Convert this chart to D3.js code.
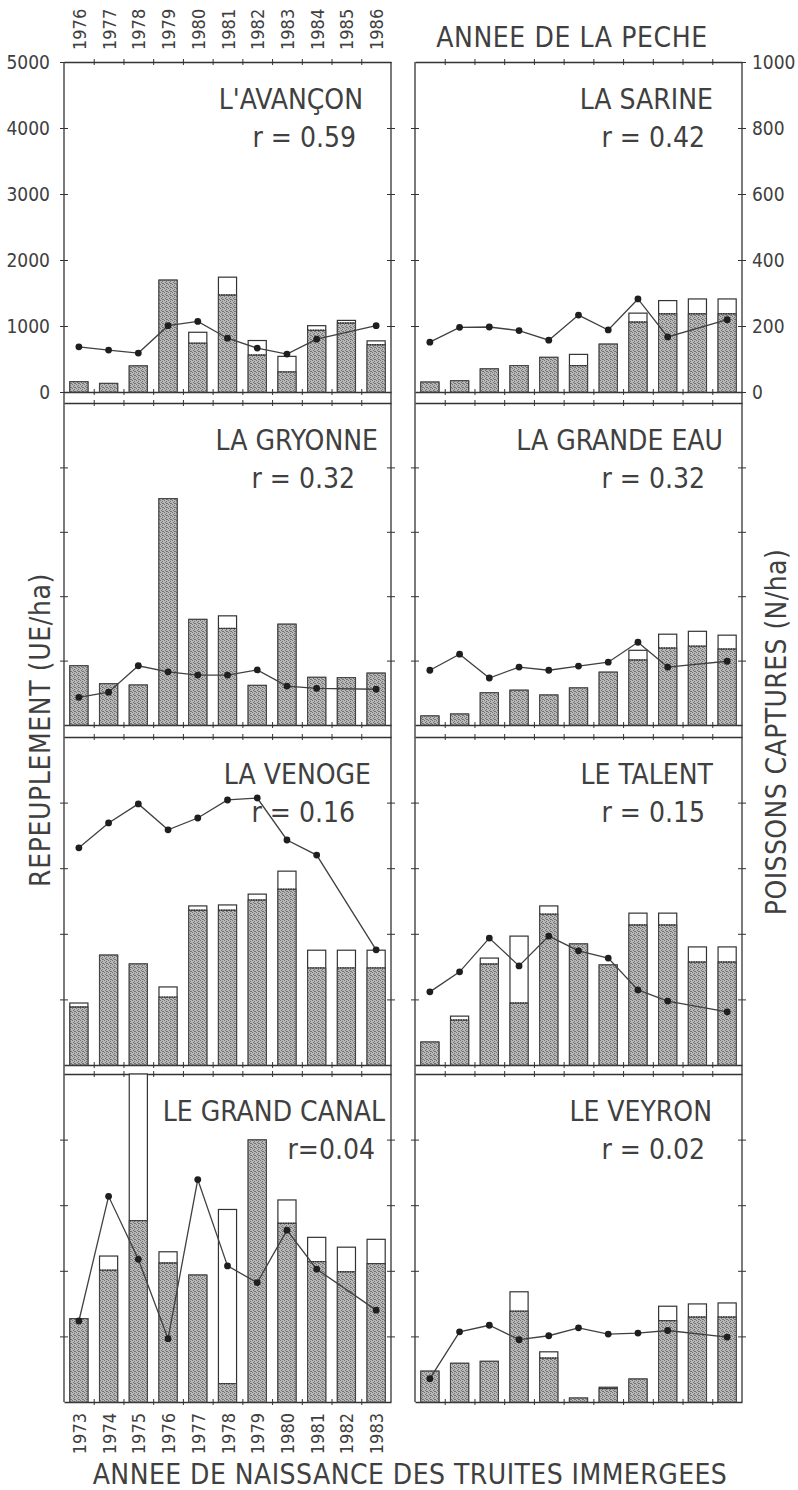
<!DOCTYPE html>
<html>
<head>
<meta charset="utf-8">
<script src="https://cdn.jsdelivr.net/npm/d3@7"></script>
<style>
  body { margin: 0; background: #fff; }
  text { font-family: "DejaVu Sans Condensed", "Liberation Sans Narrow", sans-serif; fill: #404040; }
</style>
</head>
<body>
<div id="chart"></div>
<script>
// years on the top axis (fishing) and bottom axis (birth of stocked trout)
const fishYears = ["1976","1977","1978","1979","1980","1981","1982","1983","1984","1985","1986"];
const birthYears = ["1973","1974","1975","1976","1977","1978","1979","1980","1981","1982","1983"];
const leftTicks = [0, 1000, 2000, 3000, 4000, 5000];
const rightTicks = [0, 200, 400, 600, 800, 1000];

const rivers = ["L'AVANÇON", "LA SARINE", "LA GRYONNE", "LA GRANDE EAU",
                "LA VENOGE", "LE TALENT", "LE GRAND CANAL", "LE VEYRON"];
const rLabels = ["r = 0.59", "r = 0.42", "r = 0.32", "r = 0.32",
                 "r = 0.16", "r = 0.15", "r=0.04", "r = 0.02"];

// stocking (UE/ha): shaded part and total height of each bar
const stockShaded = [
  [155, 130, 395, 1695, 740, 1470, 560, 305, 935, 1045, 715],
  [150, 170, 350, 400, 525, 400, 725, 1060, 1185, 1185, 1185],
  [920, 640, 620, 3515, 1640, 1500, 615, 1565, 740, 735, 805],
  [140, 170, 500, 540, 465, 575, 820, 1010, 1195, 1225, 1180],
  [885, 1675, 1540, 1035, 2360, 2360, 2515, 2680, 1480, 1480, 1480],
  [350, 685, 1540, 945, 2300, 1845, 1525, 2135, 2135, 1570, 1570],
  [1270, 2010, 2765, 2120, 1935, 280, 3995, 2725, 2140, 1985, 2110],
  [470, 590, 620, 1385, 670, 60, 205, 350, 1240, 1295, 1295]
];
const stockTotal = [
  [155, 130, 395, 1695, 905, 1740, 780, 540, 1005, 1085, 775],
  [150, 170, 350, 400, 525, 570, 725, 1195, 1385, 1410, 1410],
  [920, 640, 620, 3515, 1640, 1695, 615, 1565, 740, 735, 805],
  [140, 170, 500, 540, 465, 575, 820, 1160, 1410, 1455, 1395],
  [945, 1675, 1540, 1190, 2425, 2440, 2605, 2955, 1750, 1750, 1750],
  [350, 745, 1630, 1965, 2425, 1845, 1525, 2315, 2315, 1800, 1800],
  [1270, 2225, 5000, 2290, 1935, 2935, 3995, 3080, 2510, 2360, 2480],
  [470, 590, 620, 1680, 765, 60, 225, 350, 1460, 1495, 1510]
];
// fish caught (N/ha), null where no point is plotted
const caught = [
  [137, 127, 118, 201, 214, 163, 133, 115, 160, null, 201],
  [151, 196, 197, 186, 157, 233, 188, 282, 167, null, 219],
  [86, 102, 184, 165, 155, 155, 171, 121, 114, null, 111],
  [170, 220, 146, 180, 170, 183, 195, 257, 180, null, 198],
  [662, 738, 796, 717, 753, 808, 814, 686, 640, null, 351],
  [223, 284, 387, 302, 393, 348, 326, 229, 195, null, 162],
  [247, 627, 435, 193, 678, 415, 364, 524, 405, null, 280],
  [71, 214, 234, 190, 202, 226, 207, 210, 218, null, 198]
];

const W = 798, H = 1490;
const colX = [64, 415];
const panelW = 327;
const rowTop = [62, 403, 737, 1074];
const rowBottom = [392, 725, 1065, 1402];
const titleEnd = [363, 713, 378, 723, 371, 713, 385, 712];
const rEnd = [356, 705, 355, 705, 355, 705, 375, 705];
const ink = "#333";
const bigFont = "28px";

const svg = d3.select("#chart").append("svg")
  .attr("width", W).attr("height", H);

// stippled fill for the shaded part of the bars
const pat = svg.append("defs").append("pattern")
  .attr("id", "stipple").attr("width", 4).attr("height", 4)
  .attr("patternUnits", "userSpaceOnUse");
pat.append("rect").attr("width", 4).attr("height", 4).attr("fill", "#b8b8b8");
[[0, 0], [2, 1], [1, 2], [3, 3], [2, 3]].forEach(([a, b]) =>
  pat.append("rect").attr("x", a).attr("y", b).attr("width", 1).attr("height", 1).attr("fill", "#737373"));

// continuous vertical frame lines for each column
colX.forEach(x0 => {
  [x0, x0 + panelW].forEach(x => {
    svg.append("line").attr("x1", x).attr("x2", x)
      .attr("y1", rowTop[0]).attr("y2", rowBottom[3])
      .attr("stroke", ink).attr("stroke-width", 1.3);
  });
});

rivers.forEach((name, p) => {
  const col = p % 2, row = Math.floor(p / 2);
  const x0 = colX[col], top = rowTop[row], bottom = rowBottom[row];

  const x = d3.scaleBand().domain(d3.range(11))
    .range([x0, x0 + panelW]).paddingInner(0.39).paddingOuter(0.195);
  const xEdge = d3.scaleLinear().domain([0, 11]).range([x0, x0 + panelW]);
  const yBar = d3.scaleLinear().domain([0, 5000]).range([bottom, top]);
  const yLine = d3.scaleLinear().domain([0, 1000]).range([bottom, top]);

  const g = svg.append("g");

  // horizontal frame lines with ticks on the bar boundaries
  [top, bottom].forEach(yy => {
    g.append("g").attr("transform", `translate(0,${yy})`)
      .call(d3.axisBottom(xEdge).tickValues(d3.range(1, 11)).tickSize(3).tickSizeOuter(0).tickFormat(""))
      .call(a => a.select(".domain").attr("stroke", ink).attr("stroke-width", 1.3))
      .call(a => a.selectAll(".tick line").attr("y1", -3).attr("stroke", ink));
  });

  // ticks on both vertical edges
  const yTickVals = [1000, 2000, 3000, 4000];
  [x0, x0 + panelW].forEach(xx => {
    g.append("g").attr("transform", `translate(${xx},0)`)
      .call(d3.axisLeft(yBar).tickValues(yTickVals).tickSize(4).tickFormat(""))
      .call(a => a.select(".domain").remove())
      .call(a => a.selectAll(".tick line").attr("x1", 4).attr("stroke", ink));
  });

  // bars: white total, stippled shaded part
  const idx = d3.range(11);
  g.selectAll(".tot").data(idx).join("rect")
    .attr("x", i => x(i)).attr("width", x.bandwidth())
    .attr("y", i => yBar(stockTotal[p][i]))
    .attr("height", i => yBar(0) - yBar(stockTotal[p][i]))
    .attr("fill", "#fff").attr("stroke", ink).attr("stroke-width", 1.2);
  g.selectAll(".shd").data(idx).join("rect")
    .attr("x", i => x(i)).attr("width", x.bandwidth())
    .attr("y", i => yBar(stockShaded[p][i]))
    .attr("height", i => yBar(0) - yBar(stockShaded[p][i]))
    .attr("fill", "url(#stipple)").attr("stroke", "#444").attr("stroke-width", 1);
  // dotted edge where the shaded part meets the white part
  g.selectAll(".sep").data(idx.filter(i => stockTotal[p][i] > stockShaded[p][i])).join("line")
    .attr("x1", i => x(i)).attr("x2", i => x(i) + x.bandwidth())
    .attr("y1", i => yBar(stockShaded[p][i])).attr("y2", i => yBar(stockShaded[p][i]))
    .attr("stroke", "#333").attr("stroke-width", 1.4).attr("stroke-dasharray", "1.5,1");

  // catches line
  const pts = idx.filter(i => caught[p][i] != null);
  g.append("path").datum(pts)
    .attr("d", d3.line().x(i => x(i) + x.bandwidth() / 2).y(i => yLine(caught[p][i])))
    .attr("fill", "none").attr("stroke", "#404040").attr("stroke-width", 1.3);
  g.selectAll("circle").data(pts).join("circle")
    .attr("cx", i => x(i) + x.bandwidth() / 2).attr("cy", i => yLine(caught[p][i]))
    .attr("r", 3.4).attr("fill", "#1e1e1e");

  // river name and correlation
  g.append("text").attr("x", titleEnd[p]).attr("y", top + 47)
    .attr("text-anchor", "end").style("font-size", bigFont).text(name);
  g.append("text").attr("x", rEnd[p]).attr("y", top + 85)
    .attr("text-anchor", "end").style("font-size", bigFont).text(rLabels[p]);

  // tick labels only on the first row
  if (p === 0) {
    g.append("g").attr("transform", `translate(${x0},0)`)
      .call(d3.axisLeft(yBar).tickValues(leftTicks).tickSize(4).tickPadding(10).tickFormat(d3.format("d")))
      .call(a => a.select(".domain").remove())
      .call(a => a.selectAll(".tick line").attr("x1", 4).attr("stroke", ink))
      .call(a => a.selectAll("text").style("font-size", "19px").attr("fill", "#404040"));
    fishYears.forEach((yr, i) => {
      const cx = x(i) + x.bandwidth() / 2 + 7;
      g.append("text").attr("transform", `translate(${cx},50) rotate(-90)`)
        .attr("text-anchor", "start").style("font-size", "18px").text(yr);
    });
  }
  if (p === 1) {
    g.append("g").attr("transform", `translate(${x0 + panelW},0)`)
      .call(d3.axisRight(yLine).tickValues(rightTicks).tickSize(4).tickPadding(6).tickFormat(d3.format("d")))
      .call(a => a.select(".domain").remove())
      .call(a => a.selectAll(".tick line").attr("x1", -4).attr("stroke", ink))
      .call(a => a.selectAll("text").style("font-size", "19px").attr("fill", "#404040"));
  }
  if (p === 6) {
    birthYears.forEach((yr, i) => {
      const cx = x(i) + x.bandwidth() / 2 + 7;
      g.append("text").attr("transform", `translate(${cx},1413) rotate(-90)`)
        .attr("text-anchor", "end").style("font-size", "18px").text(yr);
    });
  }
});

// axis titles
svg.append("text").attr("x", 572).attr("y", 47).attr("text-anchor", "middle")
  .style("font-size", bigFont).style("letter-spacing", "0.6px").text("ANNEE DE LA PECHE");
svg.append("text").attr("x", 410).attr("y", 1484).attr("text-anchor", "middle")
  .style("font-size", bigFont).style("letter-spacing", "0.45px").text("ANNEE DE NAISSANCE DES TRUITES IMMERGEES");
svg.append("text").attr("transform", "translate(50,730) rotate(-90)")
  .attr("text-anchor", "middle").style("font-size", bigFont).style("letter-spacing", "0.6px").text("REPEUPLEMENT (UE/ha)");
svg.append("text").attr("transform", "translate(786,732) rotate(-90)")
  .attr("text-anchor", "middle").style("font-size", bigFont).style("letter-spacing", "0.4px").text("POISSONS CAPTURES (N/ha)");
</script>
</body>
</html>
